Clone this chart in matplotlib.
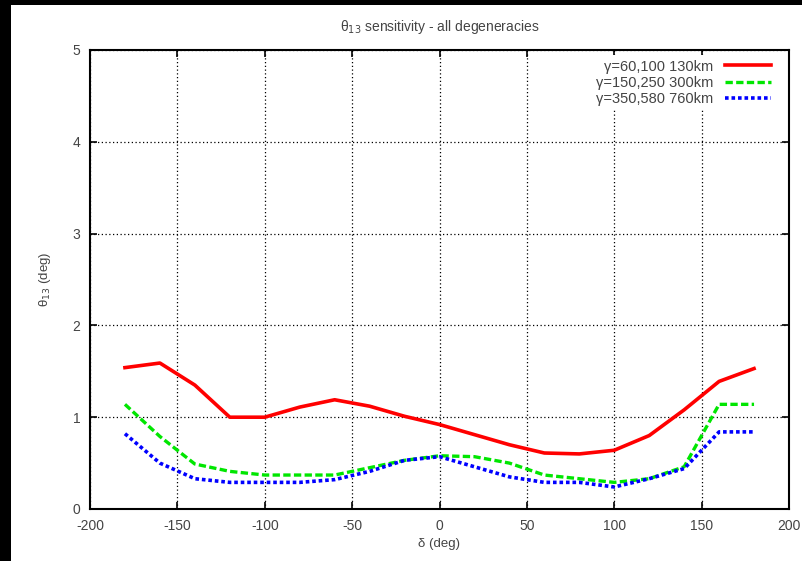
import matplotlib.pyplot as plt
from matplotlib.patches import Rectangle

plt.rcParams['font.family'] = ['Liberation Sans', 'DejaVu Sans']
plt.rcParams['axes.unicode_minus'] = False

# delta in degrees, sampled every 20 deg
delta = [-180, -160, -140, -120, -100, -80, -60, -40, -20, 0,
         20, 40, 60, 80, 100, 120, 140, 160, 180]

# theta13 sensitivity (deg) for the three baseline sets
theta_60 = [1.54, 1.59, 1.35, 1.00, 1.00, 1.11, 1.19, 1.12, 1.01, 0.92,
            0.81, 0.70, 0.61, 0.60, 0.64, 0.80, 1.08, 1.39, 1.53]
theta_150 = [1.14, 0.79, 0.49, 0.41, 0.37, 0.37, 0.37, 0.45, 0.53, 0.58,
             0.57, 0.50, 0.37, 0.33, 0.29, 0.33, 0.46, 1.14, 1.14]
theta_350 = [0.82, 0.50, 0.33, 0.29, 0.29, 0.29, 0.32, 0.41, 0.53, 0.57,
             0.46, 0.35, 0.29, 0.29, 0.24, 0.33, 0.44, 0.84, 0.84]

labels = ['γ=60,100 130km', 'γ=150,250 300km', 'γ=350,580 760km']

fig = plt.figure(figsize=(8.02, 5.61), dpi=100, facecolor='black')
# white page, leaving the black strip on the left and top
fig.patches.append(Rectangle((11 / 802, 0), 1, 1 - 5 / 561, transform=fig.transFigure,
                             facecolor='white', edgecolor='none', zorder=-5))

ax = fig.add_axes([90 / 802, 1 - 509 / 561, 699 / 802, 459 / 561])
ax.plot(delta, theta_60, color='#ff0000', lw=2.6, ls='-', label=labels[0])
ax.plot(delta, theta_150, color='#00e600', lw=2.4, ls=(0, (2.2, 1.0)), label=labels[1])
ax.plot(delta, theta_350, color='#0000ff', lw=2.6, ls=(0, (1.0, 0.8)), label=labels[2])

ax.set_xlim(-200, 200)
ax.set_ylim(0, 5)
ax.set_xticks(range(-200, 201, 50))
ax.set_yticks(range(0, 6))
ax.grid(True, color='black', ls=(0, (1, 2)), lw=0.9)
ax.tick_params(direction='in', top=True, right=True, length=5, width=1.2,
               labelsize=10, labelcolor='#444444', pad=7)
for s in ax.spines.values():
    s.set_linewidth(1.5)

ax.set_title('θ$_{13}$ sensitivity - all degeneracies', fontsize=10, color='#444444', pad=14)
ax.set_xlabel('δ (deg)', fontsize=9.5, color='#444444', labelpad=4)
ax.set_ylabel('θ$_{13}$ (deg)', fontsize=9.5, color='#444444', labelpad=14)

leg = ax.legend(loc='upper right', bbox_to_anchor=(0.985, 0.995), frameon=True,
                facecolor='white', edgecolor='none', framealpha=1, fancybox=False,
                markerfirst=False, fontsize=10.5, handlelength=3.2, handletextpad=0.8,
                labelspacing=0.15, borderaxespad=0.2, borderpad=0.3)
for t in leg.get_texts():
    t.set_color('#444444')

fig.savefig('out.png', dpi=100, facecolor=fig.get_facecolor())
